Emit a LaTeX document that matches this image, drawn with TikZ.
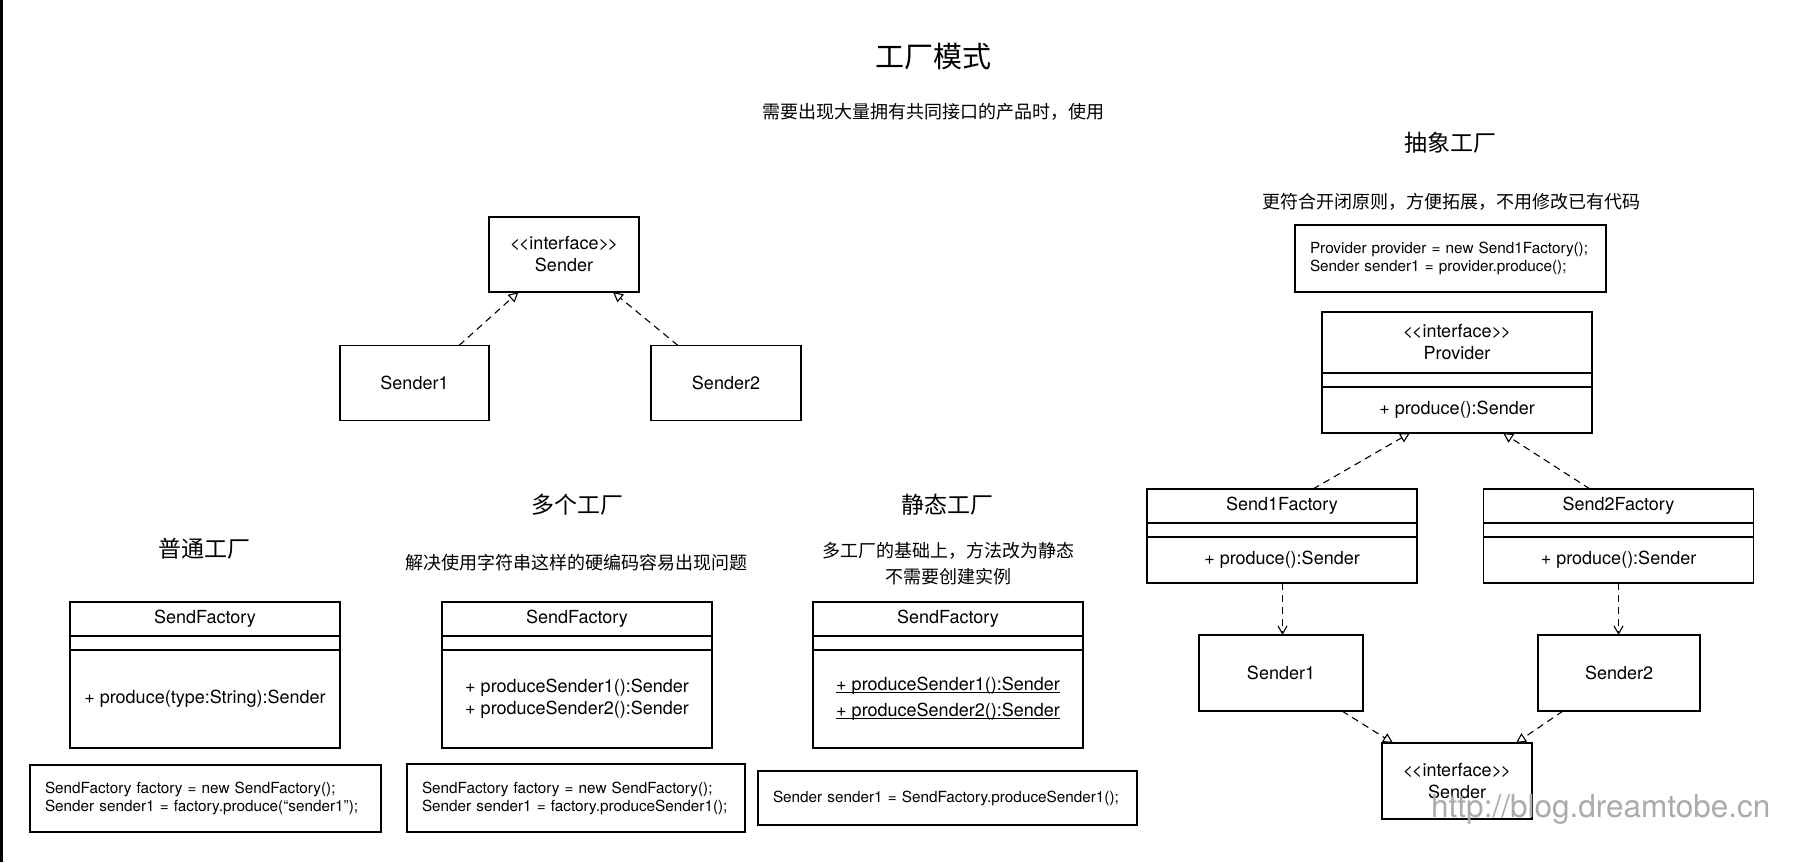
\documentclass[tikz,border=0pt]{standalone}
\usepackage{fontspec}
\setmainfont{TeX Gyre Heros}
\newfontfamily\cjk{Noto Sans CJK SC}
\usetikzlibrary{positioning}
\usetikzlibrary{arrows.meta}

\newcommand\staticline[1]{\setbox0\hbox{#1}\rlap{\rule[-2.5pt]{\wd0}{1pt}}\box0}
\newcommand\stereo{<\kern-1.5pt<interface>\kern-1.5pt>}

\begin{document}
\begin{tikzpicture}
            [x=1pt, y=-1pt,
             box/.style = {draw, line width=1.3pt, inner sep=0pt, outer sep=0pt, align=center, font=\fontsize{18}{22}\selectfont},
             part/.style = {box, minimum width=270pt},
             code/.style = {draw, line width=1.3pt, inner xsep=15pt, inner ysep=0pt, outer sep=0pt, align=left, font=\fontsize{15.3}{18}\selectfont},
             title/.style = {font=\cjk\fontsize{29}{34}\selectfont},
             head/.style = {font=\cjk\fontsize{23}{28}\selectfont},
             note/.style = {font=\cjk\fontsize{18}{26}\selectfont, align=center},
             real/.style = {line width=1.1pt, dash pattern=on 7pt off 5pt, -{Triangle[open, length=10pt, width=10pt]}},
             dep/.style = {line width=1.1pt, dash pattern=on 7pt off 5pt, -{Straight Barb[length=8pt, width=9pt]}}]

            \useasboundingbox (0,0) rectangle (1801,862);
            \fill (0,0) rectangle (3,862);

            \node[title] (main) at (933,57) {工厂模式};
            \node[note] (use) at (933,112) {需要出现大量拥有共同接口的产品时，使用};

            % product interface
            \node[box, minimum width=150pt, minimum height=75pt] (snd) at (564,254.5) {\stereo\\Sender};
            \node[box, minimum width=149pt, minimum height=75pt] (snd1) at (414.5,383) {Sender1};
            \node[box, minimum width=150pt, minimum height=75pt] (snd2) at (726,383) {Sender2};

            \draw[real] ([xshift=44.5pt]snd1.north) to ([xshift=-45.5pt]snd.south);
            \draw[real] ([xshift=-48pt]snd2.north) to ([xshift=49pt]snd.south);

            % 普通工厂
            \node[head] (plainT) at (204,549) {普通工厂};
            \node[part, minimum height=34pt] (plainN) at (205,619) {SendFactory};
            \node[part, minimum height=14pt, below=0pt of plainN] (plainA) {};
            \node[part, minimum height=98pt, below=0pt of plainA] (plainM) {+ produce(type:String):Sender};
            \node[code, text width=321pt, minimum height=67pt] (plainC) at (205.5,798.5)
                {\mbox{SendFactory factory = new SendFactory();}\\\mbox{Sender sender1 = factory.produce(“sender1”);}};

            % 多个工厂
            \node[head] (multiT) at (577,505) {多个工厂};
            \node[note] (multiS) at (576,563) {解决使用字符串这样的硬编码容易出现问题};
            \node[part, minimum height=34pt] (multiN) at (577,619) {SendFactory};
            \node[part, minimum height=14pt, below=0pt of multiN] (multiA) {};
            \node[part, minimum height=98pt, below=0pt of multiA, align=left] (multiM)
                {+ produceSender1():Sender\\+ produceSender2():Sender};
            \node[code, text width=308pt, minimum height=68pt] (multiC) at (576,798)
                {\mbox{SendFactory factory = new SendFactory();}\\\mbox{Sender sender1 = factory.produceSender1();}};

            % 静态工厂
            \node[head] (statT) at (947,505) {静态工厂};
            \node[note] (statS) at (948,564) {多工厂的基础上，方法改为静态\\不需要创建实例};
            \node[part, minimum height=34pt] (statN) at (948,619) {SendFactory};
            \node[part, minimum height=14pt, below=0pt of statN] (statA) {};
            \node[part, minimum height=98pt, below=0pt of statA, align=left, font=\fontsize{18}{26}\selectfont] (statM)
                {\staticline{+ produceSender1():Sender}\\\staticline{+ produceSender2():Sender}};
            \node[code, text width=349pt, minimum height=54pt] (statC) at (947.5,798)
                {\mbox{Sender sender1 = SendFactory.produceSender1();}};

            % 抽象工厂
            \node[head] (absT) at (1450,143) {抽象工厂};
            \node[note] (absS) at (1451,202) {更符合开闭原则，方便拓展，不用修改已有代码};
            \node[code, text width=281pt, minimum height=67pt] (absC) at (1450.5,258.5)
                {\mbox{Provider provider = new Send1Factory();}\\\mbox{Sender sender1 = provider.produce();}};

            \node[part, minimum height=61pt] (provN) at (1457,342.5) {\stereo\\Provider};
            \node[part, minimum height=14pt, below=0pt of provN] (provA) {};
            \node[part, minimum height=46pt, below=0pt of provA] (provM) {+ produce():Sender};

            \node[part, minimum height=34pt] (s1fN) at (1282,506) {Send1Factory};
            \node[part, minimum height=14pt, below=0pt of s1fN] (s1fA) {};
            \node[part, minimum height=46pt, below=0pt of s1fA] (s1fM) {+ produce():Sender};

            \node[part, minimum height=34pt] (s2fN) at (1618.5,506) {Send2Factory};
            \node[part, minimum height=14pt, below=0pt of s2fN] (s2fA) {};
            \node[part, minimum height=46pt, below=0pt of s2fA] (s2fM) {+ produce():Sender};

            \node[box, minimum width=164pt, minimum height=76pt] (rsnd1) at (1281,673) {Sender1};
            \node[box, minimum width=162pt, minimum height=76pt] (rsnd2) at (1619,673) {Sender2};
            \node[box, minimum width=150pt, minimum height=76pt] (rsnd) at (1457,781) {\stereo\\Sender};

            \draw[real] ([xshift=31pt]s1fN.north) to ([xshift=-47pt]provM.south);
            \draw[real] ([xshift=-28.5pt]s2fN.north) to ([xshift=46pt]provM.south);
            \draw[dep] ([xshift=0.5pt]s1fM.south) to ([xshift=0.5pt]s1fM.south |- rsnd1.north);
            \draw[dep] (s2fM.south) to (s2fM.south |- rsnd2.north);
            \draw[real] ([xshift=61pt]rsnd1.south) to ([xshift=-64pt]rsnd.north);
            \draw[real] ([xshift=-56pt]rsnd2.south) to ([xshift=59pt]rsnd.north);

            \node[anchor=base west, inner sep=0pt, text=black!33, font=\fontsize{31.5}{36}\selectfont] (mark) at (1431,817) {http://blog.dreamtobe.cn};

        \end{tikzpicture}
\end{document}
